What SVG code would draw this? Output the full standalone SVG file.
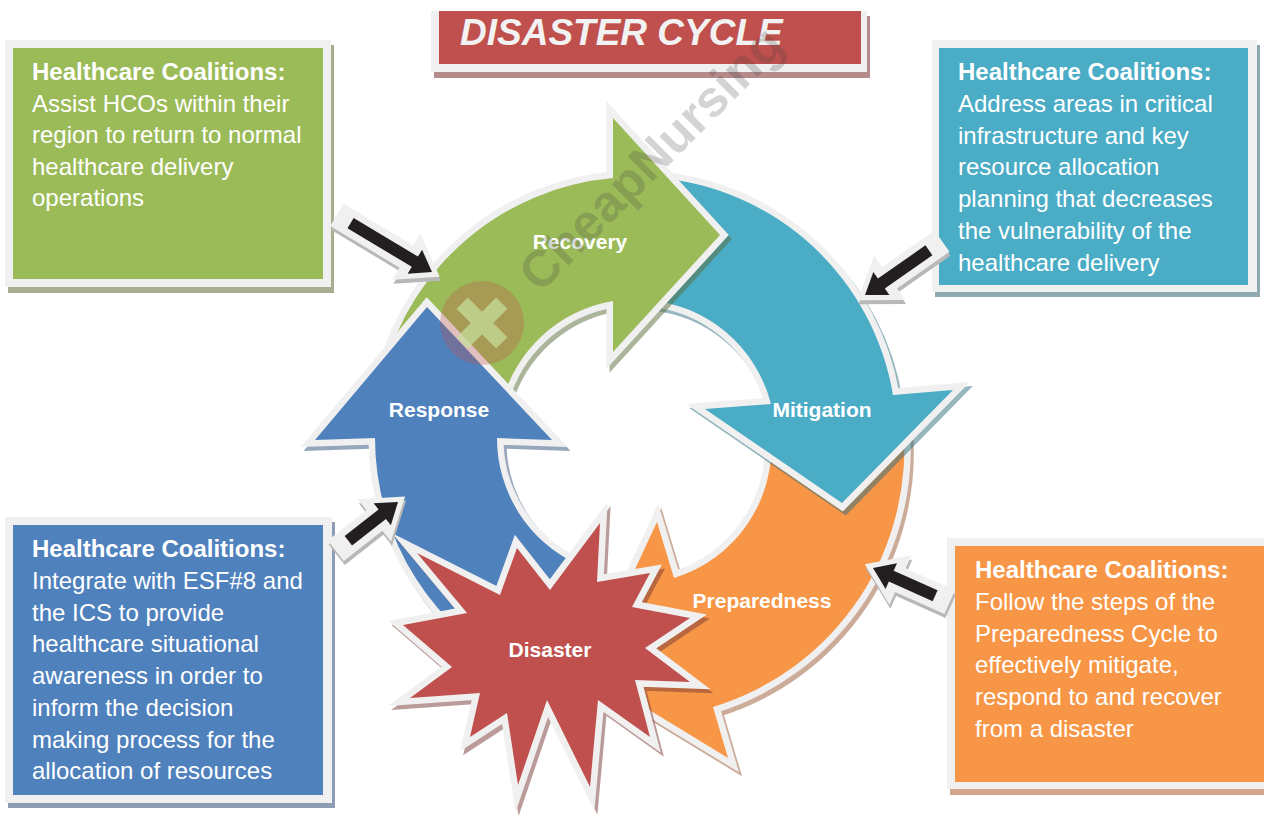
<svg xmlns="http://www.w3.org/2000/svg" width="1264" height="815" viewBox="0 0 1264 815">
<style>
.frame{fill:#f0f0f0}
.box-text{font-family:"Liberation Sans",Arial,sans-serif;font-size:24px;fill:#ffffff}
.box-text .b{font-weight:bold}
.ring{stroke:#f0f0f0;stroke-width:13;stroke-linejoin:miter;stroke-miterlimit:8;paint-order:stroke}
.shadow{stroke-width:13;stroke-linejoin:miter;stroke-miterlimit:8;opacity:0.5}
.label{font-family:"Liberation Sans",Arial,sans-serif;font-size:21px;font-weight:bold;fill:#ffffff;text-anchor:middle}
.pframe{fill:#f0f0f0}
.pshadow{fill:#b8b8b8}
.pblack{fill:#231f20}
</style>

<!-- Title -->
<g id="title">
  <rect x="434" y="16" width="436" height="62" fill="#b48a8a"/>
  <rect class="frame" x="431" y="11" width="436" height="61"/>
  <rect x="439" y="11" width="422" height="53" fill="#c0504d"/>
  <text x="460" y="45" font-family="'Liberation Sans',Arial,sans-serif" font-size="37" font-weight="bold" font-style="italic" fill="#f2f2f2">DISASTER CYCLE</text>
</g>

<!-- Info boxes -->
<g id="box-recovery">
  <rect x="8" y="45" width="326" height="248" fill="#a7ae8f"/>
  <rect class="frame" x="5" y="40" width="326" height="247"/>
  <rect x="13" y="48" width="310" height="231" fill="#9bbb59"/>
  <text class="box-text">
    <tspan class="b" x="32" y="80">Healthcare Coalitions:</tspan>
    <tspan x="32" y="111.5">Assist HCOs within their</tspan>
    <tspan x="32" y="143">region to return to normal</tspan>
    <tspan x="32" y="174.5">healthcare delivery</tspan>
    <tspan x="32" y="206">operations</tspan>
  </text>
</g>

<g id="box-mitigation">
  <rect x="935" y="45" width="325" height="252" fill="#8fa9b1"/>
  <rect class="frame" x="932" y="40" width="325" height="252"/>
  <rect x="939" y="48" width="309" height="237" fill="#4bacc6"/>
  <text class="box-text">
    <tspan class="b" x="958" y="80">Healthcare Coalitions:</tspan>
    <tspan x="958" y="112">Address areas in critical</tspan>
    <tspan x="958" y="143.5">infrastructure and key</tspan>
    <tspan x="958" y="175">resource allocation</tspan>
    <tspan x="958" y="207">planning that decreases</tspan>
    <tspan x="958" y="239">the vulnerability of the</tspan>
    <tspan x="958" y="270.5">healthcare delivery</tspan>
  </text>
</g>

<g id="box-response">
  <rect x="8" y="522" width="327" height="286" fill="#8f9db4"/>
  <rect class="frame" x="5" y="517" width="327" height="286"/>
  <rect x="13" y="525" width="310" height="270" fill="#4f81bd"/>
  <text class="box-text">
    <tspan class="b" x="32" y="557">Healthcare Coalitions:</tspan>
    <tspan x="32" y="589">Integrate with ESF#8 and</tspan>
    <tspan x="32" y="620.5">the ICS to provide</tspan>
    <tspan x="32" y="652">healthcare situational</tspan>
    <tspan x="32" y="684">awareness in order to</tspan>
    <tspan x="32" y="716">inform the decision</tspan>
    <tspan x="32" y="747.5">making process for the</tspan>
    <tspan x="32" y="779">allocation of resources</tspan>
  </text>
</g>

<g id="box-preparedness">
  <rect x="950" y="544" width="330" height="251" fill="#d2a58d"/>
  <rect class="frame" x="947" y="538" width="330" height="251"/>
  <rect x="955" y="546" width="320" height="236" fill="#f79646"/>
  <text class="box-text">
    <tspan class="b" x="975" y="578">Healthcare Coalitions:</tspan>
    <tspan x="975" y="610">Follow the steps of the</tspan>
    <tspan x="975" y="642">Preparedness Cycle to</tspan>
    <tspan x="975" y="673">effectively mitigate,</tspan>
    <tspan x="975" y="705">respond to and recover</tspan>
    <tspan x="975" y="737">from a disaster</tspan>
  </text>
</g>

<!-- Cycle segments -->
<g id="node-preparedness">
  <path class="shadow" transform="translate(3,4)" fill="#9a5a35" stroke="#9a5a35" d="M903,422 A270,270 0 0 1 713,707 L728,758 L587,672 L657,522 L674,578 A138,138 0 0 0 771,434 Z"/>
  <path class="ring" fill="#f79646" d="M903,422 A270,270 0 0 1 713,707 L728,758 L587,672 L657,522 L674,578 A138,138 0 0 0 771,434 Z"/>
  <text class="label" x="762" y="608">Preparedness</text>
</g>

<g id="node-mitigation">
  <path class="shadow" transform="translate(3,4)" fill="#2f6f80" stroke="#2f6f80" d="M659,178 A261,261 0 0 1 893,395 L953,390 L842,503 L705,409 L771,404 A139,139 0 0 0 648,300 Z"/>
  <path class="ring" fill="#4bacc6" d="M659,178 A261,261 0 0 1 893,395 L953,390 L842,503 L705,409 L771,404 A139,139 0 0 0 648,300 Z"/>
  <text class="label" x="822" y="417">Mitigation</text>
</g>

<g id="node-recovery">
  <path class="shadow" transform="translate(3,4)" fill="#5a6e3c" stroke="#5a6e3c" d="M384,370 A261,261 0 0 1 613,178 L613,118 L720,235 L613,352 L613,301 A139,139 0 0 0 502,402 Z"/>
  <path class="ring" fill="#9bbb59" d="M384,370 A261,261 0 0 1 613,178 L613,118 L720,235 L613,352 L613,301 A139,139 0 0 0 502,402 Z"/>
  <text class="label" x="580" y="249">Recovery</text>
</g>

<g id="node-response">
  <path class="shadow" transform="translate(3,4)" fill="#2f4f7a" stroke="#2f4f7a" d="M526,675 A261,261 0 0 1 375,438 L315,440 L427,307 L552,440 L497,438 A139,139 0 0 0 577,564 Z"/>
  <path class="ring" fill="#4f81bd" d="M526,675 A261,261 0 0 1 375,438 L315,440 L427,307 L552,440 L497,438 A139,139 0 0 0 577,564 Z"/>
  <text class="label" x="439" y="417">Response</text>
</g>

<g id="node-disaster">
  <polygon class="shadow" transform="translate(3,4)" fill="#7a3a38" stroke="#7a3a38" points="417,553 500,595 517,548 550,590 600,523 597,582 650,573 632,607 690,618 645,648 690,682 635,680 650,737 598,700 590,787 547,700 518,785 507,713 470,737 480,693 410,698 452,667 403,625 467,613"/>
  <polygon class="ring" fill="#c0504d" points="417,553 500,595 517,548 550,590 600,523 597,582 650,573 632,607 690,618 645,648 690,682 635,680 650,737 598,700 590,787 547,700 518,785 507,713 470,737 480,693 410,698 452,667 403,625 467,613"/>
  <text class="label" x="550" y="657">Disaster</text>
</g>

<!-- Pointer arrows (connectors) -->
<g id="connectors">
  <g id="ptr-recovery">
    <polygon class="pshadow" transform="translate(433,276) rotate(31)" points="-111,-13 -30,-13 -30,-27 9,0 -30,27 -30,13 -111,13"/>
    <polygon class="pframe" transform="translate(432,272) rotate(31)" points="-111,-13 -30,-13 -30,-27 9,0 -30,27 -30,13 -111,13"/>
    <polygon class="pblack" transform="translate(432,272) rotate(31)" points="-95,-6 -20,-6 -20,-14 0,0 -20,14 -20,6 -95,6"/>
  </g>
  <g id="ptr-mitigation">
    <polygon class="pshadow" transform="translate(866,299) rotate(145)" points="-94,-13 -30,-13 -30,-27 9,0 -30,27 -30,13 -94,13"/>
    <polygon class="pframe" transform="translate(865,295) rotate(145)" points="-94,-13 -30,-13 -30,-27 9,0 -30,27 -30,13 -94,13"/>
    <polygon class="pblack" transform="translate(865,295) rotate(145)" points="-78,-6 -20,-6 -20,-14 0,0 -20,14 -20,6 -78,6"/>
  </g>
  <g id="ptr-response">
    <polygon class="pshadow" transform="translate(399,506) rotate(-38)" points="-79,-13 -30,-13 -30,-27 9,0 -30,27 -30,13 -79,13"/>
    <polygon class="pframe" transform="translate(398,502) rotate(-38)" points="-79,-13 -30,-13 -30,-27 9,0 -30,27 -30,13 -79,13"/>
    <polygon class="pblack" transform="translate(398,502) rotate(-38)" points="-63,-6 -20,-6 -20,-14 0,0 -20,14 -20,6 -63,6"/>
  </g>
  <g id="ptr-preparedness">
    <polygon class="pshadow" transform="translate(874,572) rotate(204)" points="-84,-13 -30,-13 -30,-27 9,0 -30,27 -30,13 -84,13"/>
    <polygon class="pframe" transform="translate(873,568) rotate(204)" points="-84,-13 -30,-13 -30,-27 9,0 -30,27 -30,13 -84,13"/>
    <polygon class="pblack" transform="translate(873,568) rotate(204)" points="-68,-6 -20,-6 -20,-14 0,0 -20,14 -20,6 -68,6"/>
  </g>
</g>

<!-- Watermark -->
<g id="watermark">
  <circle cx="482" cy="323" r="42" fill="#c0504d" opacity="0.3"/>
  <g transform="translate(482,323) rotate(45)" fill="#c8e29c" opacity="0.7">
    <rect x="-8" y="-28" width="16" height="56"/>
    <rect x="-28" y="-8" width="56" height="16"/>
  </g>
  <text transform="translate(540,294) rotate(-45)" font-family="'Liberation Sans',Arial,sans-serif" font-size="51" font-weight="bold" fill="#404040" opacity="0.22">CheapNursing</text>
</g>
</svg>
